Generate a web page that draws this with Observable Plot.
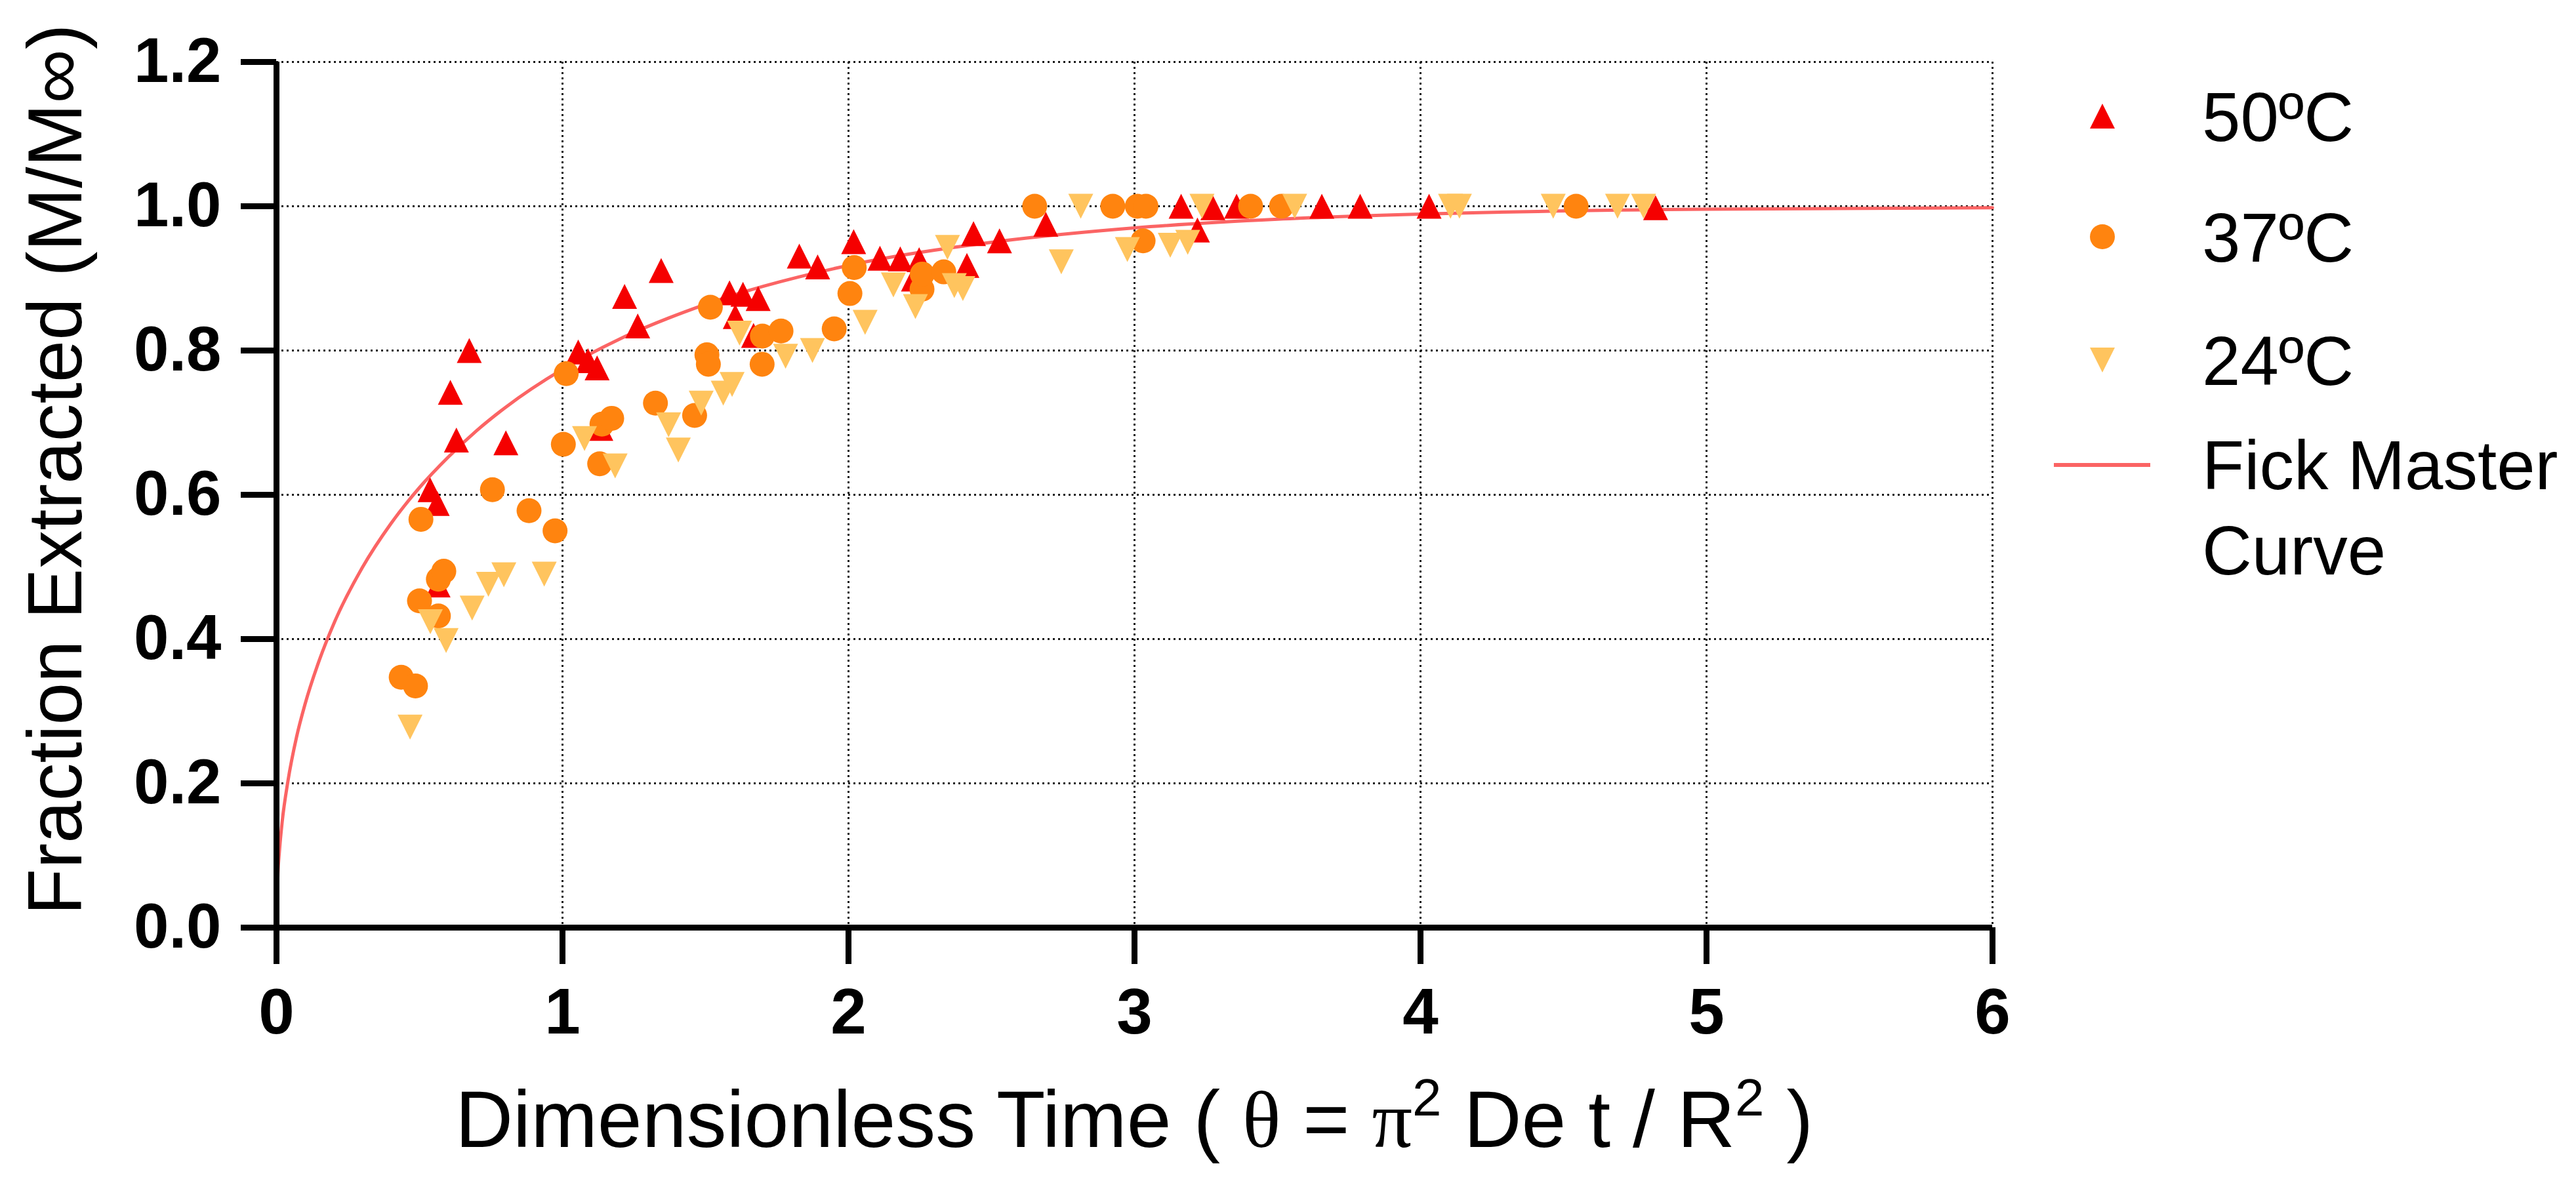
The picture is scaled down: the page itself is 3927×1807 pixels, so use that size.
<!DOCTYPE html>
<html>
<head>
<meta charset="utf-8">
<script src="https://cdn.jsdelivr.net/npm/d3@7"></script>
<script src="https://cdn.jsdelivr.net/npm/@observablehq/plot@0.6"></script>
<style>
html, body { margin: 0; padding: 0; background: #ffffff; }
#wrap { position: relative; width: 3927px; height: 1807px; overflow: hidden; background: #fff; }
#legend { position: absolute; left: 0; top: 0; }
</style>
</head>
<body>
<div id="wrap"></div>
<script>
// ---------- data ----------
const xTicks = [0, 1, 2, 3, 4, 5, 6];
const yTicks = [0, 0.2, 0.4, 0.6, 0.8, 1.0, 1.2];
const seriesNames = ["50ºC", "37ºC", "24ºC"];
const curveName = ["Fick Master", "Curve"];

// 50 ºC (red, up triangles)
const x50 = [0.537, 0.562, 0.565, 0.608, 0.629, 0.674, 0.802, 1.055, 1.089, 1.121, 1.134, 1.217, 1.263, 1.345,
  1.584, 1.604, 1.631, 1.668, 1.684, 1.828, 1.892, 2.018, 2.110, 2.181, 2.227, 2.247, 2.414, 2.437, 2.528,
  2.690, 3.163, 3.220, 3.274, 3.357, 3.655, 3.789, 4.030, 4.822];
const y50 = [0.607, 0.588, 0.475, 0.742, 0.676, 0.800, 0.672, 0.798, 0.786, 0.776, 0.692, 0.875, 0.834, 0.911,
  0.880, 0.847, 0.878, 0.821, 0.872, 0.931, 0.916, 0.951, 0.928, 0.927, 0.899, 0.926, 0.918, 0.962, 0.952,
  0.975, 1.000, 0.967, 0.998, 1.000, 1.000, 1.000, 1.000, 0.998];

// 37 ºC (orange, circles)
const x37 = [0.436, 0.486, 0.500, 0.505, 0.566, 0.566, 0.585, 0.755, 0.883, 0.974, 1.003, 1.013, 1.130, 1.138,
  1.172, 1.325, 1.462, 1.505, 1.510, 1.517, 1.698, 1.699, 1.764, 1.950, 2.005, 2.020, 2.257, 2.258, 2.333,
  2.651, 2.924, 3.010, 3.030, 3.040, 3.406, 3.514, 4.544];
const y37 = [0.347, 0.335, 0.453, 0.566, 0.432, 0.483, 0.494, 0.607, 0.578, 0.550, 0.670, 0.768, 0.643, 0.698,
  0.706, 0.727, 0.710, 0.794, 0.781, 0.860, 0.781, 0.820, 0.827, 0.830, 0.879, 0.915, 0.885, 0.906, 0.909,
  1.000, 1.000, 1.000, 0.952, 1.000, 1.000, 1.000, 1.000];

// 24 ºC (light orange, down triangles)
const x24 = [0.467, 0.538, 0.593, 0.684, 0.741, 0.795, 0.936, 1.077, 1.184, 1.371, 1.405, 1.485, 1.562, 1.593,
  1.619, 1.780, 1.874, 2.058, 2.157, 2.234, 2.346, 2.370, 2.400, 2.744, 2.812, 2.975, 3.125, 3.186, 3.236,
  3.560, 4.105, 4.136, 4.464, 4.689, 4.780];
const y24 = [0.278, 0.424, 0.398, 0.443, 0.476, 0.489, 0.490, 0.678, 0.640, 0.697, 0.662, 0.727, 0.741, 0.753,
  0.824, 0.792, 0.800, 0.839, 0.891, 0.861, 0.943, 0.890, 0.886, 0.923, 1.000, 0.940, 0.946, 0.950, 1.000,
  1.000, 1.000, 1.000, 1.000, 1.000, 1.000];

// Fick master curve
const curveX = [0, 0.005, 0.01, 0.02, 0.04, 0.07, 0.1, 0.15, 0.2, 0.3, 0.4, 0.5, 0.6, 0.7, 0.8, 1.0, 1.2, 1.5,
  2.0, 2.5, 3.0, 3.5, 4.0, 5.0, 6.0];
const curveY = [0, 0.075, 0.105, 0.147, 0.203, 0.264, 0.310, 0.371, 0.421, 0.499, 0.560, 0.610, 0.652, 0.689,
  0.721, 0.774, 0.816, 0.864, 0.918, 0.950, 0.970, 0.982, 0.989, 0.996, 0.998];

// ---------- styles ----------
const colors = ["#f50000", "#ff840f", "#ffc45e"];
const curveColor = "#fb6464";
const FONT = "'Liberation Sans', Arial, Helvetica, sans-serif";
const SERIF = "'Liberation Serif', 'Times New Roman', serif";
const R = 19;

const triUp = {
  draw(context, size) {
    const r = Math.sqrt(size / Math.PI);
    context.moveTo(0, -r); context.lineTo(r, r); context.lineTo(-r, r); context.closePath();
  }
};
const triDown = {
  draw(context, size) {
    const r = Math.sqrt(size / Math.PI);
    context.moveTo(0, r); context.lineTo(r, -r); context.lineTo(-r, -r); context.closePath();
  }
};
const circ = {
  draw(context, size) {
    const r = Math.sqrt(size / Math.PI);
    context.moveTo(r, 0); context.arc(0, 0, r, 0, 2 * Math.PI); context.closePath();
  }
};
const symbols = [triUp, circ, triDown];

const toRows = (xs, ys) => xs.map((x, i) => ({x, y: ys[i]}));
const d50 = toRows(x50, y50);
const d37 = toRows(x37, y37);
const d24 = toRows(x24, y24);
const curve = toRows(curveX, curveY);

const gridStyle = {stroke: "#1a1a1a", strokeWidth: 3, strokeDasharray: "3,5"};

const chart = Plot.plot({
  width: 3927,
  height: 1807,
  marginLeft: 421,
  marginRight: 890,
  marginTop: 94,
  marginBottom: 393,
  x: {domain: [0, 6]},
  y: {domain: [0, 1.2]},
  style: {fontFamily: FONT, background: "#ffffff", color: "#000"},
  marks: [
    Plot.ruleX(xTicks.filter(d => d > 0), gridStyle),
    Plot.ruleY(yTicks.filter(d => d > 0), gridStyle),
    Plot.line(curve, {x: "x", y: "y", stroke: curveColor, strokeWidth: 5, curve: "monotone-x"}),
    Plot.dot(d50, {x: "x", y: "y", r: R, symbol: triUp, fill: colors[0], stroke: "none"}),
    Plot.dot(d37, {x: "x", y: "y", r: R, symbol: circ, fill: colors[1], stroke: "none"}),
    Plot.dot(d24, {x: "x", y: "y", r: R, symbol: triDown, fill: colors[2], stroke: "none"}),
    Plot.ruleX([0], {stroke: "#000", strokeWidth: 9}),
    Plot.ruleY([0], {stroke: "#000", strokeWidth: 9}),
    Plot.axisX({ticks: xTicks, tickSize: 56, tickPadding: 36, fontSize: 98, fontWeight: "bold",
      strokeWidth: 9, label: null, tickFormat: d3.format("d")}),
    Plot.axisY({ticks: yTicks, tickSize: 54, tickPadding: 30, fontSize: 96, fontWeight: "bold",
      strokeWidth: 9, label: null, tickFormat: d3.format(".1f")})
  ]
});

document.getElementById("wrap").appendChild(chart);

// ---------- axis titles (positioned from the plot's scales) ----------
const svg = d3.select(chart);
const xs = chart.scale("x"), ys = chart.scale("y");
const xMid = (xs.range[0] + xs.range[1]) / 2;
const yMid = (ys.range[0] + ys.range[1]) / 2;

const xt = svg.append("text")
  .attr("x", xMid).attr("y", ys.range[0] + 335)
  .attr("text-anchor", "middle")
  .style("font-family", FONT).style("font-size", "122px").attr("fill", "#000");
xt.append("tspan").text("Dimensionless Time ( ");
xt.append("tspan").style("font-family", SERIF).text("θ");
xt.append("tspan").text(" = ");
xt.append("tspan").style("font-family", SERIF).text("π");
xt.append("tspan").attr("dy", -48).style("font-size", "80px").text("2");
xt.append("tspan").attr("dy", 48).text(" De t / R");
xt.append("tspan").attr("dy", -48).style("font-size", "80px").text("2");
xt.append("tspan").attr("dy", 48).text(" )");

svg.append("text")
  .attr("transform", `translate(124,${yMid - 38}) rotate(-90)`)
  .attr("text-anchor", "middle")
  .style("font-family", FONT).style("font-size", "116px").attr("fill", "#000")
  .text("Fraction Extracted (M/M∞)");

// ---------- legend ----------
const leg = d3.select("#wrap").append("svg")
  .attr("id", "legend").attr("width", 3927).attr("height", 1807)
  .style("pointer-events", "none");
const symX = 3205, textX = 3357, LF = 105;
const rowsY = [177, 361, 549];
const size = Math.PI * R * R;
seriesNames.forEach((name, i) => {
  const p = d3.path();
  symbols[i].draw(p, size);
  leg.append("path").attr("d", p.toString())
    .attr("transform", `translate(${symX},${rowsY[i]})`).attr("fill", colors[i]);
  leg.append("text").attr("x", textX).attr("y", rowsY[i] + 38)
    .style("font-family", FONT).style("font-size", `${LF}px`).attr("fill", "#000").text(name);
});
leg.append("line").attr("x1", 3131).attr("x2", 3278).attr("y1", 709).attr("y2", 709)
  .attr("stroke", curveColor).attr("stroke-width", 6);
leg.append("text").attr("x", textX).attr("y", 746)
  .style("font-family", FONT).style("font-size", `${LF}px`).attr("fill", "#000").text(curveName[0]);
leg.append("text").attr("x", textX).attr("y", 876)
  .style("font-family", FONT).style("font-size", `${LF}px`).attr("fill", "#000").text(curveName[1]);
</script>
</body>
</html>
